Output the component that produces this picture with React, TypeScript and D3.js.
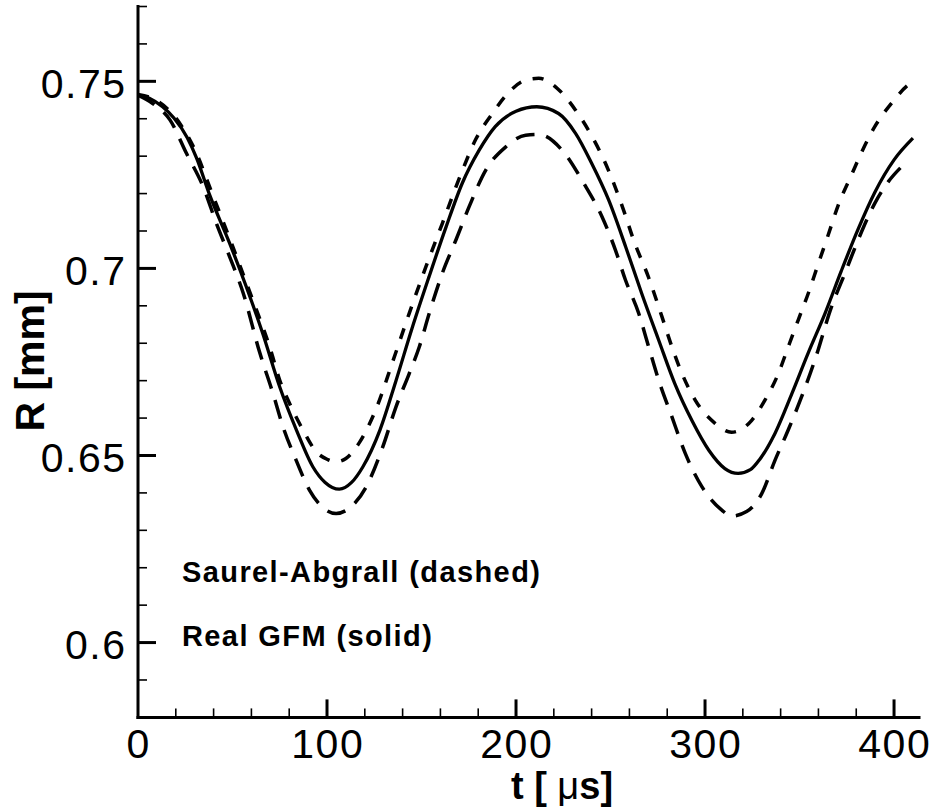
import React from "react";
import * as d3 from "d3";

// ---- data (t in microseconds, R in mm) ----
const solidT = [0, 6, 13, 19, 26, 31, 38, 48.5, 57, 66, 75, 84, 92.5, 99, 106.5, 113, 119, 128, 136.5, 145, 154, 163, 171.5, 180.5, 189, 200, 211, 222.5, 231.5, 240, 249, 258, 266.5, 275.5, 284, 293, 302, 310.5, 317.5, 324, 329, 337, 346, 354.5, 363.5, 372, 381, 390, 400, 410];
const solidR = [0.7463, 0.7455, 0.7432, 0.7402, 0.735, 0.7295, 0.7195, 0.7067, 0.6955, 0.6826, 0.6683, 0.6566, 0.647, 0.6428, 0.641, 0.6428, 0.647, 0.6568, 0.67, 0.684, 0.6978, 0.7111, 0.7227, 0.7316, 0.7379, 0.742, 0.7432, 0.7414, 0.7361, 0.7281, 0.7183, 0.7058, 0.6933, 0.6808, 0.6692, 0.6594, 0.6514, 0.6465, 0.6452, 0.6462, 0.649, 0.6559, 0.6666, 0.6773, 0.688, 0.6992, 0.7105, 0.7205, 0.729, 0.7348];

const upperT = [0, 10, 20, 30, 40, 50, 60, 70, 75, 80.2, 87.3, 94.3, 100, 104.8, 110, 117.2, 126, 134.7, 143.5, 152.3, 161, 171.7, 178.7, 187.5, 194.6, 205, 212, 222.7, 231.5, 240.3, 247.3, 256.9, 262.2, 270.2, 277.2, 282.5, 287.8, 294.8, 305.3, 314, 324.7, 331.7, 338.8, 344, 349.3, 354.6, 359.9, 365.2, 370.4, 377.5, 382.8, 389.8, 398.6, 407.4, 411];
const upperR = [0.7465, 0.7448, 0.7402, 0.7318, 0.719, 0.706, 0.6925, 0.6785, 0.6701, 0.6639, 0.6568, 0.651, 0.649, 0.6483, 0.6492, 0.6535, 0.6625, 0.675, 0.688, 0.7004, 0.712, 0.7263, 0.7345, 0.7414, 0.7462, 0.7503, 0.7508, 0.7477, 0.7423, 0.7352, 0.7281, 0.7156, 0.7076, 0.6975, 0.6871, 0.679, 0.6719, 0.6648, 0.6586, 0.6562, 0.6594, 0.6648, 0.6719, 0.679, 0.6862, 0.6933, 0.7012, 0.709, 0.7168, 0.725, 0.731, 0.7379, 0.7441, 0.749, 0.7502];

const lowerT = [0, 8, 16.9, 25.7, 34.5, 41.5, 48.5, 55.6, 64.4, 71.4, 76.7, 83.7, 90.8, 98, 104.8, 112, 120.7, 129.5, 136.5, 143.5, 148.8, 154.1, 161, 168.2, 175.2, 184, 194.6, 205.1, 212, 224.4, 235.9, 245.5, 252.6, 257.9, 264.9, 270.2, 275.5, 282.5, 289.6, 298.4, 308.9, 314, 322, 330, 337, 344, 351.1, 358.1, 366.9, 374, 381, 389.8, 397, 404];
const lowerR = [0.7463, 0.744, 0.7397, 0.7307, 0.7218, 0.712, 0.7031, 0.6935, 0.6775, 0.6666, 0.6577, 0.6487, 0.6407, 0.636, 0.6345, 0.636, 0.6416, 0.6523, 0.663, 0.6719, 0.679, 0.688, 0.6987, 0.7076, 0.7165, 0.7263, 0.7325, 0.7356, 0.7358, 0.7316, 0.7227, 0.7138, 0.7049, 0.6969, 0.688, 0.679, 0.6701, 0.6603, 0.6505, 0.6416, 0.6354, 0.6338, 0.635, 0.6398, 0.6487, 0.6568, 0.6657, 0.6755, 0.6897, 0.6987, 0.7076, 0.7174, 0.7232, 0.7272];

const xMajorTicks = [0, 100, 200, 300, 400];
const xTickLabels = ["0", "100", "200", "300", "400"];
const yMajorTicks = [0.6, 0.65, 0.7, 0.75];
const yTickLabels = ["0.6", "0.65", "0.7", "0.75"];
const legendLines = ["Saurel-Abgrall (dashed)", "Real GFM (solid)"];

const W = 934;
const H = 812;
const FONT = "'Liberation Sans', Arial, Helvetica, sans-serif";

export default function App() {
  const x = d3.scaleLinear().domain([0, 414]).range([138, 920.5]);
  const y = d3.scaleLinear().domain([0.58, 0.77]).range([717.4, 6.5]);

  const line = d3
    .line<[number, number]>()
    .x((d) => x(d[0]))
    .y((d) => y(d[1]))
    .curve(d3.curveMonotoneX);

  const zip = (a: number[], b: number[]) => a.map((t, i) => [t, b[i]] as [number, number]);

  const xMinor = d3.range(20, 400, 20).filter((v) => v % 100 !== 0);
  const yMinor = d3
    .range(0, 20)
    .map((i) => +(0.59 + i * 0.01).toFixed(2))
    .filter((v) => v <= 0.77 && !yMajorTicks.some((m) => Math.abs(m - v) < 1e-6));

  const x0 = x(0);
  const y0 = y(0.58);

  return (
    <div style={{ position: "absolute", left: 0, top: 0, width: W, height: H, background: "#fff" }}>
      <svg width={W} height={H} style={{ display: "block" }}>
        <rect width={W} height={H} fill="#fff" />
        {/* curves */}
        <path d={line(zip(lowerT, lowerR)) || ""} fill="none" stroke="#000" strokeWidth={3.5} strokeDasharray="19 12" />
        <path d={line(zip(upperT, upperR)) || ""} fill="none" stroke="#000" strokeWidth={3.5} strokeDasharray="11 12" />
        <path d={line(zip(solidT, solidR)) || ""} fill="none" stroke="#000" strokeWidth={3.3} />

        {/* axes */}
        <line x1={x0} y1={y(0.77) - 1.5} x2={x0} y2={y0 + 1.5} stroke="#000" strokeWidth={3} />
        <line x1={x0 - 1.5} y1={y0} x2={x(414)} y2={y0} stroke="#000" strokeWidth={3} />

        {yMajorTicks.map((v) => (
          <line key={"ym" + v} x1={x0} x2={x0 + 18} y1={y(v)} y2={y(v)} stroke="#000" strokeWidth={3} />
        ))}
        {yMinor.map((v) => (
          <line key={"yn" + v} x1={x0} x2={x0 + 9} y1={y(v)} y2={y(v)} stroke="#000" strokeWidth={1.6} />
        ))}
        {xMajorTicks.filter((v) => v > 0).map((v) => (
          <line key={"xm" + v} x1={x(v)} x2={x(v)} y1={y0} y2={y0 - 18} stroke="#000" strokeWidth={3} />
        ))}
        {xMinor.map((v) => (
          <line key={"xn" + v} x1={x(v)} x2={x(v)} y1={y0} y2={y0 - 9} stroke="#000" strokeWidth={1.6} />
        ))}

        {/* tick labels */}
        {yMajorTicks.map((v, i) => (
          <text key={"yl" + v} x={126.5} y={y(v) + 16.5} textAnchor="end" fontFamily={FONT} fontSize={41} letterSpacing={1.5} fill="#000">
            {yTickLabels[i]}
          </text>
        ))}
        {xMajorTicks.map((v, i) => (
          <text key={"xl" + v} x={x(v) + 0.75} y={y0 + 41} textAnchor="middle" fontFamily={FONT} fontSize={41} letterSpacing={1.5} fill="#000">
            {xTickLabels[i]}
          </text>
        ))}

        {/* axis titles */}
        <text x={562} y={799} textAnchor="middle" fontFamily={FONT} fontSize={38} fontWeight="bold" fill="#000">
          t [ <tspan fontWeight="normal">μ</tspan>s]
        </text>
        <text transform="translate(44,361) rotate(-90)" textAnchor="middle" fontFamily={FONT} fontSize={41} fontWeight="bold" fill="#000">
          R [mm]
        </text>

        {/* legend text */}
        {legendLines.map((s, i) => (
          <text key={s} x={182} y={582 + i * 64} fontFamily={FONT} fontSize={29} fontWeight="bold" letterSpacing={1.4} fill="#000">
            {s}
          </text>
        ))}
      </svg>
    </div>
  );
}
